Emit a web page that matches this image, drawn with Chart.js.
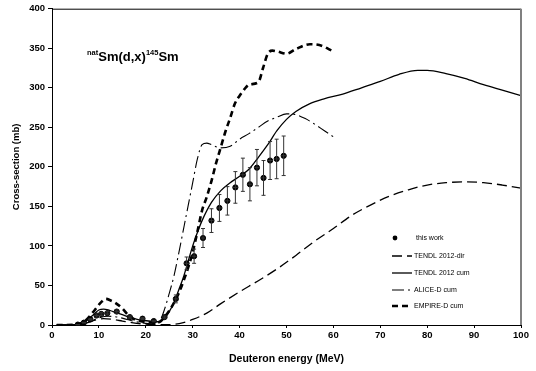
<!DOCTYPE html>
<html lang="en">
<head>
  <meta charset="UTF-8">
  <title>natSm(d,x)145Sm cross-section</title>
  <style>
    * { box-sizing: border-box; }
    html, body { margin: 0; padding: 0; background: #fff; }
    .chart-box { position: relative; width: 536px; height: 371px; }
  </style>
</head>
<body>

<div class="chart-box">
  <canvas id="xsChart"></canvas>
</div>

<script src="https://cdn.jsdelivr.net/npm/chart.js"></script>
<script>
  // measured points (this work)
  const expEnergy = [5.5, 6.8, 8.2, 9.5, 10.5, 11.8, 13.8, 16.6, 19.3, 21.7, 24.0, 26.4, 28.7, 30.3, 32.2, 34.0, 35.7, 37.4, 39.1, 40.7, 42.2, 43.7, 45.1, 46.5, 47.9, 49.4];
  const expSigma  = [0.5, 3, 7, 12, 14, 15, 17, 10, 8, 5, 10, 33, 78, 87, 110, 132, 148, 157, 174, 190, 178, 199, 186, 208, 210, 214];
  const expErr    = [0.2, 0.5, 1, 2, 2, 2, 2, 1.5, 1.2, 1, 1.5, 5, 8, 9, 12, 15, 17, 18, 20, 21, 21, 23, 22, 24, 25, 25];
  const expErrE   = 0.5;

  // TENDL 2012 direct
  const tendlDirE = [1, 5, 7, 9, 11, 13, 15, 17, 20, 23, 25, 28, 30, 33, 36, 40, 44, 48, 52, 56, 60, 64, 68, 72, 76, 80, 84, 88, 92, 96, 100];
  const tendlDirS = [0, 0.5, 2, 6, 8, 7, 5, 3, 1, 0.5, 0.5, 3, 7, 15, 27, 42, 56, 71, 88, 106, 122, 139, 152, 163, 171, 177, 180, 181, 180, 177, 173];

  // TENDL 2012 cumulative
  const tendlCumE = [1, 5, 7, 9, 10, 11, 12, 13, 15, 17, 19, 21, 22, 23, 24, 25, 26, 27, 28, 29, 30, 31, 32, 34, 36, 38, 40, 42, 44, 46, 48, 50, 52, 55, 58, 62, 66, 70, 74, 78, 80, 84, 88, 92, 96, 100];
  const tendlCumS = [0, 0.5, 4, 14, 19, 20, 19, 17, 13, 9, 6, 5, 4, 5, 9, 17, 28, 44, 60, 80, 100, 117, 132, 155, 170, 180, 188, 197, 212, 228, 246, 260, 270, 280, 286, 292, 300, 308, 317, 322, 322, 318, 312, 304, 297, 290];

  // ALICE-D cumulative
  const aliceE = [1, 6, 8, 10, 12, 14, 16, 18, 20, 22, 23, 24, 25, 26, 27, 28, 29, 30, 31, 32, 33, 34, 36, 38, 40, 42, 44, 46, 48, 50, 52, 54, 56, 58, 60];
  const aliceS = [0, 0.5, 4, 9, 11, 10, 7, 4, 2, 1, 5, 20, 40, 62, 90, 120, 150, 180, 210, 228, 230, 228, 224, 226, 235, 242, 250, 258, 263, 267, 266, 261, 254, 246, 238];

  // EMPIRE-D cumulative
  const empireE = [1, 5, 7, 9, 10.5, 11.5, 12.5, 13.5, 15, 16.5, 18, 20, 22, 23, 24, 25, 26, 27, 28, 29, 30, 31, 32, 33, 34, 35, 36, 37, 38, 39, 40, 41, 42, 44, 45, 46, 47, 48, 50, 52, 55, 57, 60];
  const empireS = [0, 0.5, 5, 18, 29, 33, 31, 28, 21, 11, 6, 4, 3, 4, 10, 18, 28, 40, 55, 72, 92, 118, 145, 162, 182, 205, 225, 245, 262, 280, 290, 298, 304, 307, 325, 343, 347, 346, 343, 349, 355, 354, 346];

  const legendNames = ['this work', 'TENDL 2012-dir', 'TENDL 2012 cum', 'ALICE-D cum', 'EMPIRE-D cum'];

  const xTicks = [0, 10, 20, 30, 40, 50, 60, 70, 80, 90, 100];
  const yTicks = [0, 50, 100, 150, 200, 250, 300, 350, 400];

  function toPoints(xs, ys) {
    return xs.map((x, i) => ({ x: x, y: ys[i] }));
  }

  const lineStyles = [
    null,
    { dash: [10, 5], width: 1.3 },
    { dash: [], width: 1.3 },
    { dash: [12, 4, 2, 4], width: 1.1 },
    { dash: [6, 4], width: 2.6 }
  ];

  // error bars drawn through the chart's own scales
  const errorBars = {
    id: 'errorBars',
    afterDatasetsDraw(chart) {
      const ctx = chart.ctx;
      const xs = chart.scales.x, ys = chart.scales.y;
      ctx.save();
      ctx.strokeStyle = '#333';
      ctx.lineWidth = 1;
      for (let i = 0; i < expEnergy.length; i++) {
        const px = xs.getPixelForValue(expEnergy[i]);
        const pTop = ys.getPixelForValue(expSigma[i] + expErr[i]);
        const pBot = ys.getPixelForValue(Math.max(0, expSigma[i] - expErr[i]));
        const py = ys.getPixelForValue(expSigma[i]);
        const pl = xs.getPixelForValue(expEnergy[i] - expErrE);
        const pr = xs.getPixelForValue(expEnergy[i] + expErrE);
        ctx.beginPath();
        ctx.moveTo(px, pTop); ctx.lineTo(px, pBot);
        ctx.moveTo(px - 2, pTop); ctx.lineTo(px + 2, pTop);
        ctx.moveTo(px - 2, pBot); ctx.lineTo(px + 2, pBot);
        ctx.moveTo(pl, py); ctx.lineTo(pr, py);
        ctx.stroke();
      }
      ctx.restore();
    }
  };

  // frame, reaction label and legend
  const decorations = {
    id: 'decorations',
    afterDraw(chart) {
      const ctx = chart.ctx;
      const a = chart.chartArea;
      ctx.save();
      // top and right frame lines
      ctx.strokeStyle = '#000';
      ctx.lineWidth = 1;
      ctx.beginPath();
      ctx.moveTo(a.left, a.top + 0.5); ctx.lineTo(a.right, a.top + 0.5);
      ctx.stroke();
      ctx.strokeStyle = '#808080';
      ctx.lineWidth = 2;
      ctx.beginPath();
      ctx.moveTo(a.right, a.top); ctx.lineTo(a.right, a.bottom);
      ctx.stroke();

      // reaction label with superscripts
      ctx.fillStyle = '#000';
      ctx.textBaseline = 'alphabetic';
      ctx.textAlign = 'left';
      let x = 87;
      const base = 61;
      const parts = [['nat', 7.5, -6], ['Sm(d,x)', 13, 0], ['145', 7.5, -6], ['Sm', 13, 0]];
      parts.forEach(([t, size, dy]) => {
        ctx.font = 'bold ' + size + 'px "Liberation Sans", Arial, sans-serif';
        ctx.fillText(t, x, base + dy);
        x += ctx.measureText(t).width;
      });

      // legend
      ctx.font = '7px "Liberation Sans", Arial, sans-serif';
      ctx.textBaseline = 'middle';
      const rows = [238, 256, 273, 290, 306];
      const lx0 = 392, lx1 = 412, tx = 414;
      legendNames.forEach((name, i) => {
        const y = rows[i];
        if (i === 0) {
          ctx.beginPath();
          ctx.arc(395, y, 2.4, 0, Math.PI * 2);
          ctx.fillStyle = '#000';
          ctx.fill();
          ctx.fillText(name, tx + 2, y);
        } else {
          const st = lineStyles[i];
          ctx.strokeStyle = '#000';
          ctx.lineWidth = st.width;
          ctx.setLineDash(st.dash);
          ctx.beginPath();
          ctx.moveTo(lx0, y); ctx.lineTo(lx1, y);
          ctx.stroke();
          ctx.setLineDash([]);
          ctx.fillStyle = '#000';
          ctx.fillText(name, tx, y);
        }
      });
      ctx.restore();
    }
  };

  function curve(label, xs, ys, st) {
    return {
      label: label,
      data: toPoints(xs, ys),
      showLine: true,
      borderColor: '#000',
      borderWidth: st.width,
      borderDash: st.dash,
      pointRadius: 0,
      fill: false,
      cubicInterpolationMode: 'monotone'
    };
  }

  const tickFont = { family: '"Liberation Sans", Arial, sans-serif', size: 9.5, weight: 'bold' };
  const titleFont = { family: '"Liberation Sans", Arial, sans-serif', size: 10.5, weight: 'bold' };

  new Chart(document.getElementById('xsChart'), {
    type: 'scatter',
    data: {
      datasets: [
        {
          label: legendNames[0],
          data: toPoints(expEnergy, expSigma),
          pointRadius: 2.6,
          pointBackgroundColor: '#000',
          pointBorderColor: '#000',
          showLine: false
        },
        curve(legendNames[1], tendlDirE, tendlDirS, lineStyles[1]),
        curve(legendNames[2], tendlCumE, tendlCumS, lineStyles[2]),
        curve(legendNames[3], aliceE, aliceS, lineStyles[3]),
        curve(legendNames[4], empireE, empireS, lineStyles[4])
      ]
    },
    options: {
      responsive: true,
      maintainAspectRatio: false,
      animation: false,
      layout: { padding: { top: 6, right: 15, left: 0, bottom: 0 } },
      plugins: {
        legend: { display: false },
        tooltip: { enabled: false }
      },
      scales: {
        x: {
          type: 'linear',
          min: 0, max: 100,
          afterFit: s => { s.height = 46; },
          afterBuildTicks: s => { s.ticks = xTicks.map(v => ({ value: v })); },
          ticks: { color: '#000', font: tickFont, padding: 2, maxRotation: 0 },
          grid: { drawOnChartArea: false, drawTicks: true, tickLength: 3, color: '#000' },
          border: { display: true, color: '#000', width: 1 },
          title: { display: true, text: 'Deuteron energy (MeV)', color: '#000', font: titleFont, padding: { top: 0, bottom: 6 } }
        },
        y: {
          type: 'linear',
          min: 0, max: 400,
          afterFit: s => { s.width = 52; },
          afterBuildTicks: s => { s.ticks = yTicks.map(v => ({ value: v })); },
          ticks: { color: '#000', font: tickFont, padding: 3 },
          grid: { drawOnChartArea: false, drawTicks: true, tickLength: 4, color: '#000' },
          border: { display: true, color: '#000', width: 1 },
          title: { display: true, text: 'Cross-section (mb)', color: '#000', font: { family: '"Liberation Sans", Arial, sans-serif', size: 9.5, weight: 'bold' }, padding: { top: 11, bottom: 0 } }
        }
      }
    },
    plugins: [errorBars, decorations]
  });
</script>

</body>
</html>
